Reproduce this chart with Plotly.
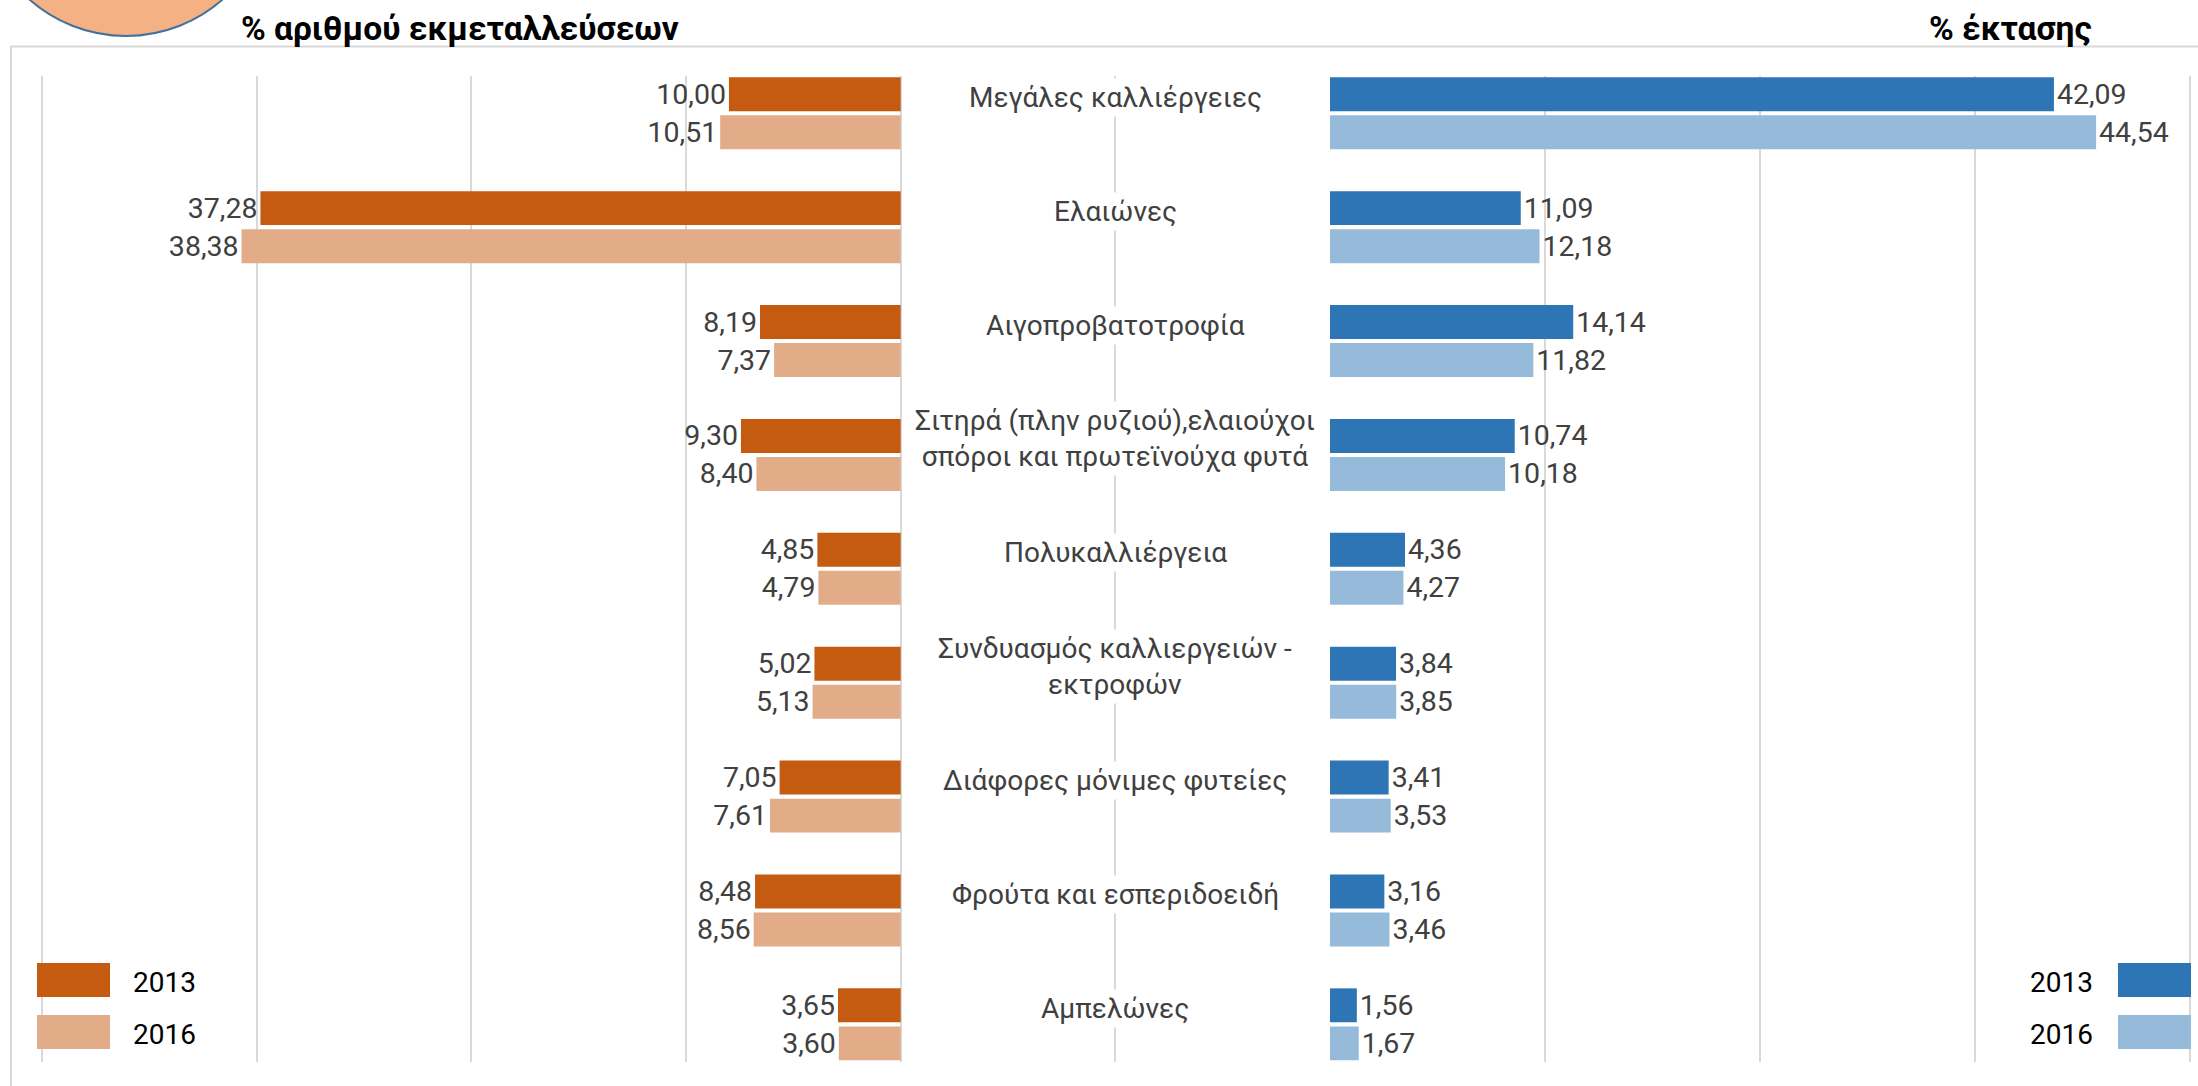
import plotly.graph_objects as go

# ---------------- data ----------------
categories = [
    "Μεγάλες καλλιέργειες",
    "Ελαιώνες",
    "Αιγοπροβατοτροφία",
    "Σιτηρά (πλην ρυζιού),ελαιούχοι σπόροι και πρωτεϊνούχα φυτά",
    "Πολυκαλλιέργεια",
    "Συνδυασμός καλλιεργειών - εκτροφών",
    "Διάφορες μόνιμες φυτείες",
    "Φρούτα και εσπεριδοειδή",
    "Αμπελώνες",
]
category_labels = [
    "Μεγάλες καλλιέργειες",
    "Ελαιώνες",
    "Αιγοπροβατοτροφία",
    "Σιτηρά (πλην ρυζιού),ελαιούχοι<br>σπόροι και πρωτεϊνούχα φυτά",
    "Πολυκαλλιέργεια",
    "Συνδυασμός καλλιεργειών -<br>εκτροφών",
    "Διάφορες μόνιμες φυτείες",
    "Φρούτα και εσπεριδοειδή",
    "Αμπελώνες",
]
holdings_2013 = [10.00, 37.28, 8.19, 9.30, 4.85, 5.02, 7.05, 8.48, 3.65]
holdings_2016 = [10.51, 38.38, 7.37, 8.40, 4.79, 5.13, 7.61, 8.56, 3.60]
area_2013 = [42.09, 11.09, 14.14, 10.74, 4.36, 3.84, 3.41, 3.16, 1.56]
area_2016 = [44.54, 12.18, 11.82, 10.18, 4.27, 3.85, 3.53, 3.46, 1.67]
years = ["2013", "2016"]
title_left = "% αριθμού εκμεταλλεύσεων"
title_right = "% έκτασης"

# ---------------- styles ----------------
W, H = 2198, 1086
ORANGE = "#C55A11"
ORANGE_L = "#E2AC88"
BLUE = "#2E75B6"
BLUE_L = "#96BADA"
GRID = "#D9D9D9"
TXT = "#404040"
FONT = "Roboto"
LBL_SIZE = 28.5
PXU = 17.17  # pixels per unit (both panels)


def px(x):
    return x / W


def py(y):
    return 1 - y / H


BAR_W = 0.298
OFF_A = -0.316
OFF_B = 0.018

fig = go.Figure()

left_specs = [(holdings_2013, ORANGE, OFF_A, years[0]), (holdings_2016, ORANGE_L, OFF_B, years[1])]
right_specs = [(area_2013, BLUE, OFF_A, years[0]), (area_2016, BLUE_L, OFF_B, years[1])]

for vals, col, off, name in left_specs:
    fig.add_trace(go.Bar(
        y=categories, x=vals, orientation="h", name=name,
        marker=dict(color=col, line=dict(width=0)),
        width=BAR_W, offset=off,
        texttemplate="%{x:.2f}", textposition="outside",
        textfont=dict(family=FONT, size=LBL_SIZE, color=TXT),
        constraintext="none", cliponaxis=False,
        xaxis="x", yaxis="y", showlegend=False,
    ))
for vals, col, off, name in right_specs:
    fig.add_trace(go.Bar(
        y=categories, x=vals, orientation="h", name=name,
        marker=dict(color=col, line=dict(width=0)),
        width=BAR_W, offset=off,
        texttemplate="%{x:.2f}", textposition="outside",
        textfont=dict(family=FONT, size=LBL_SIZE, color=TXT),
        constraintext="none", cliponaxis=False,
        xaxis="x2", yaxis="y", showlegend=False,
    ))

annotations = []
# category labels in the middle column
for cat, lab in zip(categories, category_labels):
    annotations.append(dict(
        x=px(1115), xref="paper", y=cat, yref="y", yshift=16,
        text=lab, showarrow=False, xanchor="center", yanchor="middle",
        font=dict(family=FONT, size=28, color=TXT), bgcolor="white",
        borderpad=2,
    ))

# titles
annotations.append(dict(x=px(239), y=py(28), xref="paper", yref="paper", text="<b>%s</b>" % title_left,
                        showarrow=False, xanchor="left", yanchor="middle",
                        font=dict(family=FONT, size=33.5, color="black")))
annotations.append(dict(x=px(2094), y=py(28), xref="paper", yref="paper", text="<b>%s</b>" % title_right,
                        showarrow=False, xanchor="right", yanchor="middle",
                        font=dict(family=FONT, size=33.5, color="black")))

# legends
shapes = []
leg_rows = [(980, ORANGE, BLUE), (1032, ORANGE_L, BLUE_L)]
for (yc, lc, rc), yr in zip(leg_rows, years):
    shapes.append(dict(type="rect", xref="paper", yref="paper", x0=px(37), x1=px(110),
                       y0=py(yc - 17), y1=py(yc + 17), fillcolor=lc, line=dict(width=0)))
    shapes.append(dict(type="rect", xref="paper", yref="paper", x0=px(2118), x1=px(2191),
                       y0=py(yc - 17), y1=py(yc + 17), fillcolor=rc, line=dict(width=0)))
    annotations.append(dict(x=px(131), y=py(yc + 2), xref="paper", yref="paper", text=yr,
                            showarrow=False, xanchor="left", yanchor="middle",
                            font=dict(family=FONT, size=28, color="black")))
    annotations.append(dict(x=px(2095), y=py(yc + 2), xref="paper", yref="paper", text=yr,
                            showarrow=False, xanchor="right", yanchor="middle",
                            font=dict(family=FONT, size=28, color="black")))

# chart border
shapes.append(dict(type="rect", xref="paper", yref="paper", x0=px(11), x1=px(2400),
                   y0=py(1200), y1=py(46.5), line=dict(color=GRID, width=2), fillcolor="rgba(0,0,0,0)",
                   layer="below"))
# decorative circle top-left
shapes.append(dict(type="circle", xref="paper", yref="paper", x0=px(126 - 146), x1=px(126 + 146),
                   y0=py(36), y1=py(-256), fillcolor="#F4B183", line=dict(color="#41719C", width=2)))

EXT = 0.15  # small range extension so that edge gridlines are drawn
fig.update_layout(
    width=W, height=H,
    margin=dict(l=0, r=0, t=0, b=0),
    paper_bgcolor="white", plot_bgcolor="white",
    separators=",.",
    barmode="overlay",
    showlegend=False,
    annotations=annotations,
    shapes=shapes,
    xaxis=dict(domain=[px(42 - EXT * PXU), px(1330)], range=[50 + EXT, -25], tick0=0, dtick=12.5,
               showgrid=True, gridcolor=GRID, gridwidth=1.5, zeroline=False,
               showticklabels=False, showline=False, ticks="", anchor="y"),
    xaxis2=dict(domain=[px(1330), px(2190 + EXT * PXU)], range=[0, 50 + EXT], tick0=0, dtick=12.5,
                showgrid=True, gridcolor=GRID, gridwidth=1.5, zeroline=False,
                showticklabels=False, showline=False, ticks="", anchor="y"),
    yaxis=dict(domain=[py(1061.7), py(75.7)], type="category", categoryorder="array",
               categoryarray=categories, range=[8.328, -0.330],
               showticklabels=False, showgrid=False, zeroline=False, showline=False, ticks=""),
    font=dict(family=FONT),
)

fig.write_html("out.html", config={"displayModeBar": False},
               post_script="document.body.style.margin='0';document.body.style.overflow='hidden';")
